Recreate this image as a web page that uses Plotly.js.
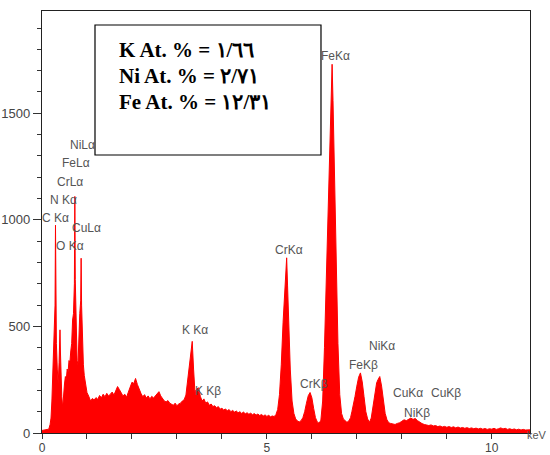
<!DOCTYPE html>
<html>
<head>
<meta charset="utf-8">
<script src="https://cdn.plot.ly/plotly-3.0.1.min.js"></script>
<style>html,body{margin:0;padding:0;background:#fff;}#chart{width:550px;height:455px;}</style>
</head>
<body>
<div id="chart"></div>
<script>
// EDS spectrum: energy (keV) and counts
const energyKeV = [
  0, 0.05, 0.10, 0.15, 0.18, 0.20, 0.22, 0.24, 0.26, 0.28,
  0.29, 0.30, 0.31, 0.32, 0.34, 0.36, 0.38, 0.40, 0.41, 0.42,
  0.44, 0.46, 0.48, 0.50, 0.52, 0.54, 0.56, 0.58, 0.60, 0.62,
  0.64, 0.66, 0.68, 0.70, 0.72, 0.73, 0.74, 0.76, 0.78, 0.80,
  0.82, 0.84, 0.86, 0.87, 0.88, 0.90, 0.92, 0.94, 0.96, 0.98,
  1.00, 1.04, 1.08, 1.12, 1.16, 1.20, 1.24, 1.28, 1.32, 1.36,
  1.40, 1.44, 1.48, 1.52, 1.56, 1.60, 1.64, 1.68, 1.72, 1.76,
  1.80, 1.84, 1.88, 1.92, 1.96, 2.00, 2.04, 2.08, 2.12, 2.16,
  2.20, 2.24, 2.28, 2.32, 2.36, 2.40, 2.44, 2.48, 2.52, 2.56,
  2.60, 2.64, 2.68, 2.72, 2.76, 2.80, 2.84, 2.88, 2.92, 2.96,
  3.00, 3.04, 3.08, 3.12, 3.16, 3.20, 3.23, 3.26, 3.30, 3.34,
  3.37, 3.40, 3.44, 3.48, 3.52, 3.56, 3.60, 3.64, 3.68, 3.72,
  3.76, 3.80, 3.84, 3.88, 3.92, 3.96, 4.00, 4.04, 4.08, 4.12,
  4.16, 4.20, 4.24, 4.28, 4.32, 4.36, 4.40, 4.44, 4.48, 4.52,
  4.56, 4.60, 4.64, 4.68, 4.72, 4.76, 4.80, 4.84, 4.88, 4.92,
  4.96, 5.00, 5.04, 5.08, 5.12, 5.16, 5.20, 5.24, 5.28, 5.32,
  5.36, 5.40, 5.44, 5.46, 5.48, 5.52, 5.56, 5.60, 5.64, 5.68,
  5.72, 5.76, 5.80, 5.84, 5.88, 5.92, 5.96, 6.00, 6.04, 6.08,
  6.12, 6.16, 6.20, 6.24, 6.28, 6.32, 6.36, 6.40, 6.43, 6.45,
  6.47, 6.50, 6.54, 6.58, 6.62, 6.66, 6.70, 6.74, 6.78, 6.82,
  6.86, 6.89, 6.92, 6.96, 7.00, 7.04, 7.08, 7.12, 7.16, 7.20,
  7.24, 7.28, 7.32, 7.36, 7.40, 7.44, 7.47, 7.51, 7.55, 7.59,
  7.63, 7.67, 7.71, 7.75, 7.80, 7.85, 7.90, 7.95, 8.00, 8.05,
  8.10, 8.15, 8.20, 8.25, 8.30, 8.35, 8.40, 8.45, 8.50, 8.55,
  8.60, 8.65, 8.70, 8.75, 8.80, 8.85, 8.90, 8.95, 9.00, 9.05,
  9.10, 9.15, 9.20, 9.25, 9.30, 9.35, 9.40, 9.45, 9.50, 9.55,
  9.60, 9.65, 9.70, 9.75, 9.80, 9.85, 9.90, 9.95, 10.00, 10.05,
  10.10, 10.15, 10.20, 10.25, 10.30, 10.35, 10.40, 10.45, 10.50, 10.55,
  10.60, 10.65, 10.70, 10.75, 10.80, 10.85
];
const counts = [
  12, 14, 13, 18, 40, 70, 150, 260, 380, 560,
  600, 975, 570, 420, 300, 230, 330, 484, 380, 280,
  170, 120, 190, 230, 265, 250, 300, 285, 340, 330,
  385, 420, 530, 560, 700, 1110, 720, 470, 340, 320,
  460, 560, 620, 820, 600, 420, 320, 270, 245, 205,
  190, 172, 150, 162, 155, 166, 158, 176, 165, 182,
  170, 186, 174, 182, 192, 178, 200, 218, 204, 186,
  174, 182, 168, 192, 212, 238, 232, 256, 228, 202,
  186, 170, 180, 164, 174, 160, 172, 164, 176, 186,
  194, 174, 160, 150, 146, 152, 140, 134, 130, 140,
  128, 136, 140, 150, 156, 178, 230, 300, 370, 430,
  300, 195, 205, 212, 172, 150, 160, 140, 146, 130,
  136, 124, 128, 118, 124, 112, 116, 108, 113, 104,
  110, 100, 106, 98, 103, 95, 100, 92, 98, 90,
  95, 88, 93, 86, 91, 84, 89, 82, 87, 80,
  85, 78, 83, 76, 80, 77, 86, 110, 180, 320,
  520, 700, 822, 690, 520, 300, 150, 92, 66, 56,
  52, 58, 72, 100, 140, 175, 190, 165, 115, 72,
  52, 46, 60, 150, 400, 700, 1000, 1350, 1600, 1730,
  1560, 1250, 800, 420, 180, 92, 66, 56, 50, 56,
  72, 100, 125, 172, 220, 262, 282, 240, 170, 100,
  66, 50, 70, 120, 190, 235, 250, 265, 220, 150,
  92, 62, 48, 45, 42, 40, 45, 48, 55, 62,
  58, 66, 70, 64, 68, 58, 50, 44, 40, 38,
  35, 38, 33, 35, 30, 33, 28, 31, 27, 30,
  26, 29, 24, 28, 23, 26, 22, 25, 21, 24,
  20, 23, 19, 22, 18, 21, 17, 20, 18, 22,
  17, 20, 24, 19, 22, 17, 20, 16, 19, 15,
  18, 14, 17, 14, 16, 15
];

// Peak labels and where they sit (keV, counts)
const peakLabels = ["NiLα", "FeLα", "CrLα", "N Kα", "C Kα", "O Kα", "CuLα", "K Kα", "K Kβ",
                    "CrKα", "CrKβ", "FeKα", "FeKβ", "NiKα", "CuKα", "CuKβ", "NiKβ"];
const labelKeV    = [0.58, 0.40, 0.29, 0.13, 0.00, 0.27, 0.62, 3.07, 3.36,
                     5.14, 5.69, 6.16, 6.78, 7.23, 7.76, 8.60, 8.00];
const labelCounts = [1351, 1267, 1178, 1093, 1009, 878, 962, 483, 197,
                     859, 230, 1769, 319, 408, 188, 188, 94];

// Composition box
const boxLines = ["K At. % = ١/٦٦", "Ni At. % = ٢/٧١", "Fe At. % = ١٢/٣١"];

const xTicks = [0, 5, 10];
const yTicks = [0, 500, 1000, 1500];

const trace = {
  x: energyKeV, y: counts, type: "scatter", mode: "lines",
  line: {color: "#ff0000", width: 1},
  fill: "tozeroy", fillcolor: "#ff0000", hoverinfo: "skip"
};

const annotations = peakLabels.map((t, i) => ({
  x: labelKeV[i], y: labelCounts[i], xref: "x", yref: "y", text: t,
  showarrow: false, xanchor: "left", yanchor: "middle",
  xshift: (labelKeV[i] === 0 ? -2 : 0),
  font: {family: "Liberation Sans, Arial, sans-serif", size: 12, color: "#555555"}
}));
annotations.push({
  x: 1.0389, y: -0.004, xref: "paper", yref: "paper", text: "keV", showarrow: false,
  xanchor: "right", yanchor: "middle",
  font: {family: "Liberation Sans, Arial, sans-serif", size: 11, color: "#555555"}
});
const lineY = [0.9076, 0.846, 0.7844];
boxLines.forEach((t, i) => annotations.push({
  x: 0.1537, y: lineY[i], xref: "paper", yref: "paper", text: "<b>" + t + "</b>",
  showarrow: false, xanchor: "left", yanchor: "middle",
  font: {family: "Liberation Serif, Times New Roman, serif", size: 21, color: "#000000"}
}));

const layout = {
  width: 550, height: 455,
  margin: {l: 42, r: 20, t: 11, b: 22, pad: 0, autoexpand: false},
  paper_bgcolor: "#ffffff", plot_bgcolor: "#ffffff",
  showlegend: false,
  xaxis: {
    range: [0, 10.85], tickvals: xTicks, ticktext: xTicks.map(String),
    ticks: "outside", ticklen: 5, tickcolor: "#333", tickwidth: 1,
    ticklabelstandoff: -2,
    minor: {dtick: 1, tick0: 0, ticks: "outside", ticklen: 5, tickcolor: "#333", showgrid: false},
    showgrid: false, zeroline: false, showline: true, mirror: true,
    linecolor: "#222", linewidth: 1.2,
    tickfont: {family: "Liberation Sans, Arial, sans-serif", size: 12, color: "#444"}
  },
  yaxis: {
    range: [0, 1980], tickvals: yTicks, ticktext: yTicks.map(String),
    ticks: "outside", ticklen: 8, tickcolor: "#333", tickwidth: 1,
    minor: {dtick: 100, tick0: 0, ticks: "outside", ticklen: 4, tickcolor: "#333", showgrid: false},
    showgrid: false, zeroline: false, showline: true, mirror: true,
    linecolor: "#222", linewidth: 1.2,
    tickfont: {family: "Liberation Sans, Arial, sans-serif", size: 13, color: "#444"}
  },
  shapes: [{
    type: "rect", xref: "paper", yref: "paper",
    x0: 0.1086, x1: 0.5717, y0: 0.6588, y1: 0.9668,
    line: {color: "#000", width: 1.2}, fillcolor: "rgba(255,255,255,1)", layer: "above"
  }],
  annotations: annotations
};

Plotly.newPlot("chart", [trace], layout, {staticPlot: true, displayModeBar: false});
</script>
</body>
</html>
